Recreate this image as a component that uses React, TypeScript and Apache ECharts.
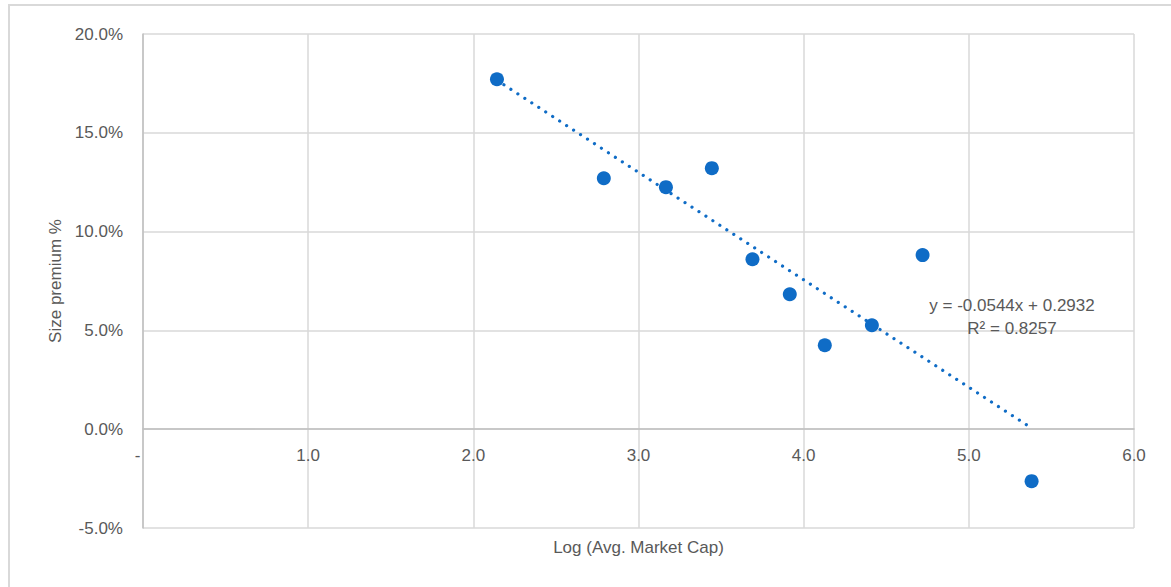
import React, { useEffect, useRef } from "react";
import * as echarts from "echarts";

const logMarketCap = [2.143, 2.79, 3.166, 3.444, 3.69, 3.916, 4.128, 4.413, 4.72, 5.38];
const sizePremium = [0.1771, 0.127, 0.1225, 0.1321, 0.086, 0.0683, 0.0425, 0.0526, 0.0881, -0.0263];
const trendX = [2.143, 5.39];
const trendY = [0.1766, 0.0];
const equationLines = ["y = -0.0544x + 0.2932", "R² = 0.8257"];

const BLUE = "#0f6cc6";
const TEXT = "#595959";
const FONT = "'Liberation Sans', Arial, sans-serif";

export default function App() {
  const ref = useRef<HTMLDivElement>(null);
  useEffect(() => {
    if (!ref.current) return;
    const chart = echarts.init(ref.current, undefined, { renderer: "svg" });
    const points = logMarketCap.map((x, i) => [x, sizePremium[i]]);
    const trend = trendX.map((x, i) => [x, trendY[i]]);
    chart.setOption({
      animation: false,
      backgroundColor: "#ffffff",
      textStyle: { fontFamily: FONT },
      grid: { left: 143, right: 37, top: 34, bottom: 59, containLabel: false },
      xAxis: {
        type: "value",
        min: 0,
        max: 6,
        interval: 1,
        offset: -98.8,
        name: "Log (Avg. Market Cap)",
        nameLocation: "middle",
        nameGap: 110,
        nameTextStyle: { color: TEXT, fontSize: 17, fontFamily: FONT },
        axisLine: { show: true, onZero: false, lineStyle: { color: "#bfbfbf", width: 1.5 } },
        axisTick: { show: false },
        axisLabel: {
          color: TEXT,
          fontSize: 17,
          fontFamily: FONT,
          margin: 18,
          formatter: (v: number) => (v === 0 ? "{z|-}" : v.toFixed(1)),
          rich: { z: { color: TEXT, fontSize: 17, fontFamily: FONT, padding: [0, 11, 0, 0] } },
        },
        splitLine: { show: true, lineStyle: { color: "#d9d9d9", width: 1.5 } },
      },
      yAxis: {
        type: "value",
        min: -0.05,
        max: 0.2,
        interval: 0.05,
        name: "Size premium %",
        nameLocation: "middle",
        nameGap: 78,
        nameTextStyle: { color: TEXT, fontSize: 17, fontFamily: FONT },
        axisLine: { show: true, onZero: false, lineStyle: { color: "#bfbfbf", width: 1.5 } },
        axisTick: { show: false },
        axisLabel: {
          color: TEXT,
          fontSize: 17,
          fontFamily: FONT,
          margin: 20,
          formatter: (v: number) => (v * 100).toFixed(1) + "%",
        },
        splitLine: { show: true, lineStyle: { color: "#d9d9d9", width: 1.5 } },
      },
      graphic: [
        {
          type: "rect",
          shape: { x: 9, y: 5, width: 1180, height: 600 },
          style: { fill: "none", stroke: "#d9d9d9", lineWidth: 2 },
          silent: true,
          z: -10,
        },
        {
          type: "text",
          x: 1012,
          y: 305,
          style: {
            text: equationLines[0],
            fill: TEXT,
            font: `17px ${FONT}`,
            align: "center",
            verticalAlign: "middle",
          },
          z: 100,
        },
        {
          type: "text",
          x: 1012,
          y: 328,
          style: {
            text: equationLines[1],
            fill: TEXT,
            font: `17px ${FONT}`,
            align: "center",
            verticalAlign: "middle",
          },
          z: 100,
        },
      ],
      series: [
        {
          type: "line",
          data: trend,
          showSymbol: false,
          symbol: "none",
          lineStyle: { color: BLUE, width: 3.2, type: [0.01, 8.3], cap: "round" },
          z: 3,
        },
        {
          type: "scatter",
          data: points,
          symbol: "circle",
          symbolSize: 14,
          itemStyle: { color: BLUE, opacity: 1 },
          z: 4,
        },
      ],
    });
    return () => chart.dispose();
  }, []);
  return (
    <div
      ref={ref}
      style={{ position: "fixed", left: 0, top: 0, width: 1171, height: 587 }}
    />
  );
}
